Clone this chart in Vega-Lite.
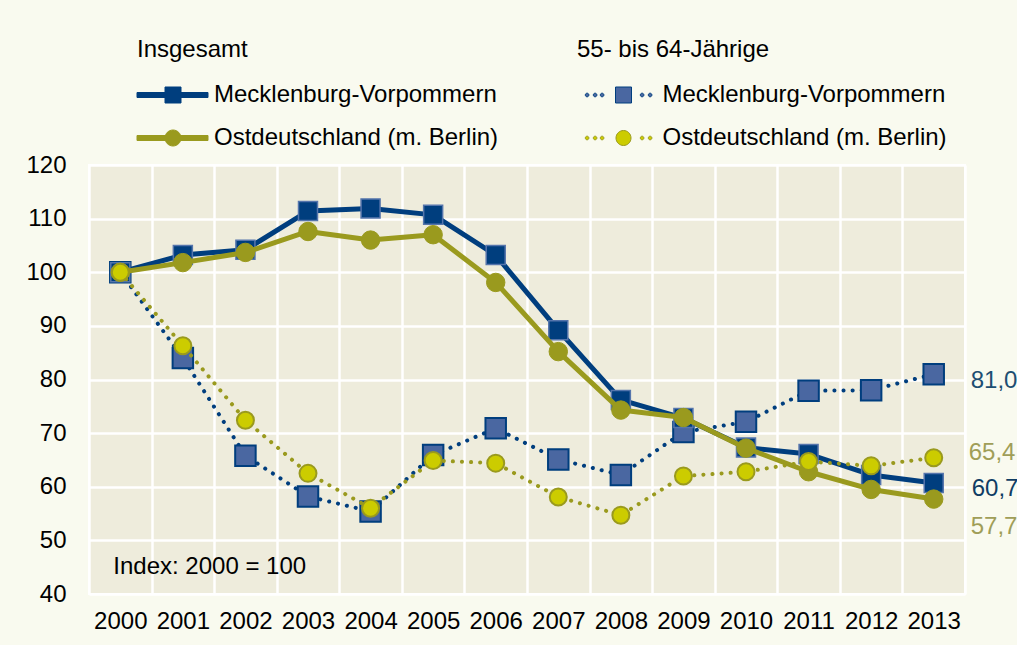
{
  "$schema": "https://vega.github.io/schema/vega-lite/v6.json",
  "width": 876,
  "height": 429,
  "autosize": {"type": "none"},
  "padding": {"left": 89, "top": 165, "right": 52, "bottom": 51},
  "background": "#F9FAEF",
  "config": {
    "locale": {"number": {"decimal": ",", "thousands": ".", "grouping": [3], "currency": ["", " €"]}},
    "font": "Liberation Sans",
    "view": {"fill": "#EEECDC", "stroke": "#FFFFFF", "strokeWidth": 2},
    "axis": {"grid": true, "gridColor": "#FFFFFF", "gridWidth": 2.5, "gridOpacity": 1, "ticks": false, "tickSize": 0, "domain": false, "labelFont": "Liberation Sans", "labelFontSize": 24, "labelColor": "#000000"},
    "legend": {"orient": "none", "padding": 0, "symbolSize": 400, "symbolStrokeWidth": 1, "symbolOpacity": 1, "labelFont": "Liberation Sans", "labelFontSize": 24, "labelColor": "#000000", "labelLimit": 500, "titleFont": "Liberation Sans", "titleFontSize": 24, "titleFontWeight": "normal", "titleColor": "#000000", "titleLimit": 500, "titlePadding": 21, "rowPadding": 19}
  },
  "data": {"values": [
    {"year": 2000, "value": 100, "group": "Insgesamt", "series": "Mecklenburg-Vorpommern"},
    {"year": 2001, "value": 103.2, "group": "Insgesamt", "series": "Mecklenburg-Vorpommern"},
    {"year": 2002, "value": 104.2, "group": "Insgesamt", "series": "Mecklenburg-Vorpommern"},
    {"year": 2003, "value": 111.4, "group": "Insgesamt", "series": "Mecklenburg-Vorpommern"},
    {"year": 2004, "value": 111.9, "group": "Insgesamt", "series": "Mecklenburg-Vorpommern"},
    {"year": 2005, "value": 110.7, "group": "Insgesamt", "series": "Mecklenburg-Vorpommern"},
    {"year": 2006, "value": 103.2, "group": "Insgesamt", "series": "Mecklenburg-Vorpommern"},
    {"year": 2007, "value": 89.2, "group": "Insgesamt", "series": "Mecklenburg-Vorpommern"},
    {"year": 2008, "value": 76.2, "group": "Insgesamt", "series": "Mecklenburg-Vorpommern"},
    {"year": 2009, "value": 72.8, "group": "Insgesamt", "series": "Mecklenburg-Vorpommern"},
    {"year": 2010, "value": 67.3, "group": "Insgesamt", "series": "Mecklenburg-Vorpommern"},
    {"year": 2011, "value": 66.1, "group": "Insgesamt", "series": "Mecklenburg-Vorpommern"},
    {"year": 2012, "value": 62.2, "group": "Insgesamt", "series": "Mecklenburg-Vorpommern"},
    {"year": 2013, "value": 60.7, "group": "Insgesamt", "series": "Mecklenburg-Vorpommern"},
    {"year": 2000, "value": 100, "group": "Insgesamt", "series": "Ostdeutschland (m. Berlin)"},
    {"year": 2001, "value": 101.8, "group": "Insgesamt", "series": "Ostdeutschland (m. Berlin)"},
    {"year": 2002, "value": 103.7, "group": "Insgesamt", "series": "Ostdeutschland (m. Berlin)"},
    {"year": 2003, "value": 107.6, "group": "Insgesamt", "series": "Ostdeutschland (m. Berlin)"},
    {"year": 2004, "value": 106.0, "group": "Insgesamt", "series": "Ostdeutschland (m. Berlin)"},
    {"year": 2005, "value": 107.0, "group": "Insgesamt", "series": "Ostdeutschland (m. Berlin)"},
    {"year": 2006, "value": 98.1, "group": "Insgesamt", "series": "Ostdeutschland (m. Berlin)"},
    {"year": 2007, "value": 85.2, "group": "Insgesamt", "series": "Ostdeutschland (m. Berlin)"},
    {"year": 2008, "value": 74.3, "group": "Insgesamt", "series": "Ostdeutschland (m. Berlin)"},
    {"year": 2009, "value": 72.9, "group": "Insgesamt", "series": "Ostdeutschland (m. Berlin)"},
    {"year": 2010, "value": 67.2, "group": "Insgesamt", "series": "Ostdeutschland (m. Berlin)"},
    {"year": 2011, "value": 62.8, "group": "Insgesamt", "series": "Ostdeutschland (m. Berlin)"},
    {"year": 2012, "value": 59.5, "group": "Insgesamt", "series": "Ostdeutschland (m. Berlin)"},
    {"year": 2013, "value": 57.7, "group": "Insgesamt", "series": "Ostdeutschland (m. Berlin)"},
    {"year": 2000, "value": 100, "group": "55-64", "series": "Mecklenburg-Vorpommern"},
    {"year": 2001, "value": 84.0, "group": "55-64", "series": "Mecklenburg-Vorpommern"},
    {"year": 2002, "value": 65.8, "group": "55-64", "series": "Mecklenburg-Vorpommern"},
    {"year": 2003, "value": 58.2, "group": "55-64", "series": "Mecklenburg-Vorpommern"},
    {"year": 2004, "value": 55.4, "group": "55-64", "series": "Mecklenburg-Vorpommern"},
    {"year": 2005, "value": 65.9, "group": "55-64", "series": "Mecklenburg-Vorpommern"},
    {"year": 2006, "value": 70.9, "group": "55-64", "series": "Mecklenburg-Vorpommern"},
    {"year": 2007, "value": 65.1, "group": "55-64", "series": "Mecklenburg-Vorpommern"},
    {"year": 2008, "value": 62.2, "group": "55-64", "series": "Mecklenburg-Vorpommern"},
    {"year": 2009, "value": 70.2, "group": "55-64", "series": "Mecklenburg-Vorpommern"},
    {"year": 2010, "value": 72.1, "group": "55-64", "series": "Mecklenburg-Vorpommern"},
    {"year": 2011, "value": 77.9, "group": "55-64", "series": "Mecklenburg-Vorpommern"},
    {"year": 2012, "value": 78.0, "group": "55-64", "series": "Mecklenburg-Vorpommern"},
    {"year": 2013, "value": 81.0, "group": "55-64", "series": "Mecklenburg-Vorpommern"},
    {"year": 2000, "value": 100, "group": "55-64", "series": "Ostdeutschland (m. Berlin)"},
    {"year": 2001, "value": 86.3, "group": "55-64", "series": "Ostdeutschland (m. Berlin)"},
    {"year": 2002, "value": 72.4, "group": "55-64", "series": "Ostdeutschland (m. Berlin)"},
    {"year": 2003, "value": 62.5, "group": "55-64", "series": "Ostdeutschland (m. Berlin)"},
    {"year": 2004, "value": 56.0, "group": "55-64", "series": "Ostdeutschland (m. Berlin)"},
    {"year": 2005, "value": 64.9, "group": "55-64", "series": "Ostdeutschland (m. Berlin)"},
    {"year": 2006, "value": 64.4, "group": "55-64", "series": "Ostdeutschland (m. Berlin)"},
    {"year": 2007, "value": 58.1, "group": "55-64", "series": "Ostdeutschland (m. Berlin)"},
    {"year": 2008, "value": 54.7, "group": "55-64", "series": "Ostdeutschland (m. Berlin)"},
    {"year": 2009, "value": 62.0, "group": "55-64", "series": "Ostdeutschland (m. Berlin)"},
    {"year": 2010, "value": 62.8, "group": "55-64", "series": "Ostdeutschland (m. Berlin)"},
    {"year": 2011, "value": 64.7, "group": "55-64", "series": "Ostdeutschland (m. Berlin)"},
    {"year": 2012, "value": 63.9, "group": "55-64", "series": "Ostdeutschland (m. Berlin)"},
    {"year": 2013, "value": 65.4, "group": "55-64", "series": "Ostdeutschland (m. Berlin)"}
  ]},
  "encoding": {
    "x": {"field": "year", "type": "ordinal", "bandPosition": 0.5,
      "scale": {"type": "band", "paddingInner": 0, "paddingOuter": 0},
      "axis": {"title": null, "labelAngle": 0, "tickBand": "extent", "labelPadding": 15}},
    "y": {"field": "value", "type": "quantitative",
      "scale": {"domain": [40, 120], "nice": false, "zero": false},
      "axis": {"title": null, "values": [40, 50, 60, 70, 80, 90, 100, 110, 120], "labelPadding": 23}}
  },
  "layer": [
    {
      "transform": [{"filter": "datum.group == '55-64' && datum.series == 'Mecklenburg-Vorpommern'"}],
      "layer": [
        {"mark": {"type": "line", "color": "#003E7E", "strokeWidth": 4, "strokeDash": [0.1, 9], "strokeCap": "round"}, "encoding": {}},
        {"mark": {"type": "point", "shape": "square", "filled": true, "fill": "#4A67A1", "stroke": "#003E7E", "strokeWidth": 2, "size": 420, "opacity": 1}, "encoding": {}}
      ]
    },
    {
      "transform": [{"filter": "datum.group == 'Insgesamt' && datum.series == 'Mecklenburg-Vorpommern'"}],
      "layer": [
        {"mark": {"type": "line", "color": "#003E7E", "strokeWidth": 5, "strokeJoin": "round"}, "encoding": {}},
        {"mark": {"type": "point", "shape": "square", "filled": true, "fill": "#003E7E", "stroke": "#5575AC", "strokeWidth": 1.5, "size": 361, "opacity": 1}, "encoding": {}}
      ]
    },
    {
      "transform": [{"filter": "datum.group == 'Insgesamt' && datum.series == 'Ostdeutschland (m. Berlin)'"}],
      "layer": [
        {"mark": {"type": "line", "color": "#9A9A1E", "strokeWidth": 5, "strokeJoin": "round"}, "encoding": {}},
        {"mark": {"type": "point", "shape": "circle", "filled": true, "fill": "#9A9A1E", "stroke": "#9A9A1E", "strokeWidth": 1, "size": 340, "opacity": 1}, "encoding": {}}
      ]
    },
    {
      "transform": [{"filter": "datum.group == '55-64' && datum.series == 'Ostdeutschland (m. Berlin)'"}],
      "layer": [
        {"mark": {"type": "line", "color": "#9A9A1E", "strokeWidth": 4, "strokeDash": [0.1, 9], "strokeCap": "round"}, "encoding": {}},
        {"mark": {"type": "point", "shape": "circle", "filled": true, "fill": "#CCCC00", "stroke": "#9A9A1E", "strokeWidth": 2, "size": 289, "opacity": 1}, "encoding": {}}
      ]
    },
    {
      "transform": [{"filter": "datum.year == 2013 && datum.group == '55-64' && datum.series == 'Mecklenburg-Vorpommern'"}],
      "mark": {"type": "text", "align": "left", "baseline": "middle", "dx": 37, "dy": 7, "fontSize": 24, "font": "Liberation Sans", "color": "#1D4E72"},
      "encoding": {"text": {"field": "value", "type": "quantitative", "format": ".1f"}}
    },
    {
      "transform": [{"filter": "datum.year == 2013 && datum.group == '55-64' && datum.series == 'Ostdeutschland (m. Berlin)'"}],
      "mark": {"type": "text", "align": "left", "baseline": "middle", "dx": 35, "dy": -5, "fontSize": 24, "font": "Liberation Sans", "color": "#A09E58"},
      "encoding": {"text": {"field": "value", "type": "quantitative", "format": ".1f"}}
    },
    {
      "transform": [{"filter": "datum.year == 2013 && datum.group == 'Insgesamt' && datum.series == 'Mecklenburg-Vorpommern'"}],
      "mark": {"type": "text", "align": "left", "baseline": "middle", "dx": 38, "dy": 6, "fontSize": 24, "font": "Liberation Sans", "color": "#0F3D64"},
      "encoding": {"text": {"field": "value", "type": "quantitative", "format": ".1f"}}
    },
    {
      "transform": [{"filter": "datum.year == 2013 && datum.group == 'Insgesamt' && datum.series == 'Ostdeutschland (m. Berlin)'"}],
      "mark": {"type": "text", "align": "left", "baseline": "middle", "dx": 37, "dy": 28, "fontSize": 24, "font": "Liberation Sans", "color": "#A09E58"},
      "encoding": {"text": {"field": "value", "type": "quantitative", "format": ".1f"}}
    },
    {
      "data": {"values": [{"year": 2000, "value": 45, "label": "Index: 2000 = 100"}]},
      "mark": {"type": "text", "align": "left", "baseline": "middle", "dx": -7, "fontSize": 24, "font": "Liberation Sans", "color": "#000000"},
      "encoding": {"text": {"field": "label", "type": "nominal"}}
    },
    {
      "transform": [{"filter": "datum.group == 'Insgesamt' && datum.year == 2000"}],
      "mark": {"type": "point", "filled": true, "opacity": 0, "size": 400},
      "encoding": {
        "color": {"field": "series", "type": "nominal",
          "scale": {"domain": ["Mecklenburg-Vorpommern", "Ostdeutschland (m. Berlin)"], "range": ["#003E7E", "#9A9A1E"]},
          "legend": {"title": "Insgesamt", "legendX": 48, "legendY": -127, "symbolOffset": 24, "labelOffset": 29}},
        "stroke": {"field": "series", "type": "nominal",
          "scale": {"domain": ["Mecklenburg-Vorpommern", "Ostdeutschland (m. Berlin)"], "range": ["#003E7E", "#9A9A1E"]},
          "legend": {"title": "Insgesamt", "legendX": 48, "legendY": -127, "symbolOffset": 24, "labelOffset": 29}},
        "shape": {"field": "series", "type": "nominal",
          "scale": {"domain": ["Mecklenburg-Vorpommern", "Ostdeutschland (m. Berlin)"], "range": [
            "M-3.6,-0.25H3.5V0.25H-3.6Z M-0.8,-0.8H0.8V0.8H-0.8Z",
            "M-3.6,-0.25H3.5V0.25H-3.6Z M-0.8,0A0.8,0.8 0 1,1 0.8,0A0.8,0.8 0 1,1 -0.8,0Z"]},
          "legend": {"title": "Insgesamt", "legendX": 48, "legendY": -127, "symbolOffset": 24, "labelOffset": 29}}
      }
    },
    {
      "transform": [{"filter": "datum.group == '55-64' && datum.year == 2000"}],
      "mark": {"type": "point", "filled": true, "opacity": 0, "size": 400},
      "encoding": {
        "color": {"field": "series", "type": "nominal",
          "scale": {"domain": ["Mecklenburg-Vorpommern", "Ostdeutschland (m. Berlin)"], "range": ["#4A67A1", "#CCCC00"]},
          "legend": {"title": "55- bis 64-Jährige", "legendX": 488, "legendY": -127, "symbolOffset": 34.5, "labelOffset": 27}},
        "stroke": {"field": "series", "type": "nominal",
          "scale": {"domain": ["Mecklenburg-Vorpommern", "Ostdeutschland (m. Berlin)"], "range": ["#003E7E", "#9A9A1E"]},
          "legend": {"title": "55- bis 64-Jährige", "legendX": 488, "legendY": -127, "symbolOffset": 34.5, "labelOffset": 27}},
        "shape": {"field": "series", "type": "nominal",
          "scale": {"domain": ["Mecklenburg-Vorpommern", "Ostdeutschland (m. Berlin)"], "range": [
            "M-3.82,0a0.18,0.18 0 1,1 0.36,0a0.18,0.18 0 1,1 -0.36,0Z M-3.02,0a0.18,0.18 0 1,1 0.36,0a0.18,0.18 0 1,1 -0.36,0Z M-2.32,0a0.18,0.18 0 1,1 0.36,0a0.18,0.18 0 1,1 -0.36,0Z M1.68,0a0.18,0.18 0 1,1 0.36,0a0.18,0.18 0 1,1 -0.36,0Z M2.48,0a0.18,0.18 0 1,1 0.36,0a0.18,0.18 0 1,1 -0.36,0Z M-0.8,-0.8H0.8V0.8H-0.8Z",
            "M-3.82,0a0.18,0.18 0 1,1 0.36,0a0.18,0.18 0 1,1 -0.36,0Z M-3.02,0a0.18,0.18 0 1,1 0.36,0a0.18,0.18 0 1,1 -0.36,0Z M-2.32,0a0.18,0.18 0 1,1 0.36,0a0.18,0.18 0 1,1 -0.36,0Z M1.68,0a0.18,0.18 0 1,1 0.36,0a0.18,0.18 0 1,1 -0.36,0Z M2.48,0a0.18,0.18 0 1,1 0.36,0a0.18,0.18 0 1,1 -0.36,0Z M-0.75,0A0.75,0.75 0 1,1 0.75,0A0.75,0.75 0 1,1 -0.75,0Z"]},
          "legend": {"title": "55- bis 64-Jährige", "legendX": 488, "legendY": -127, "symbolOffset": 34.5, "labelOffset": 27}}
      }
    }
  ],
  "resolve": {
    "scale": {"color": "independent", "stroke": "independent", "shape": "independent"},
    "legend": {"color": "independent", "stroke": "independent", "shape": "independent"}
  }
}
